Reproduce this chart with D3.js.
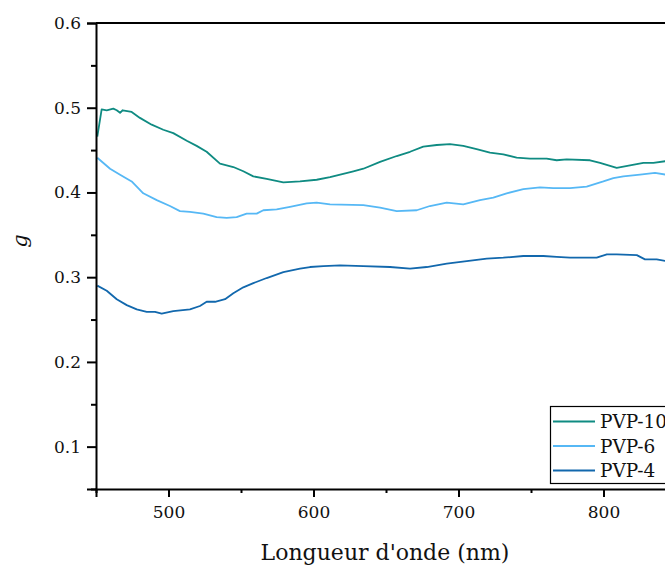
<!DOCTYPE html>
<html><head><meta charset="utf-8">
<script src="https://cdn.jsdelivr.net/npm/d3@7"></script>
<style>body{margin:0;background:#fff}svg{display:block}text{font-family:"DejaVu Serif",serif;fill:#111}</style>
</head><body>
<svg id="c" width="665" height="565"></svg>
<script>
const seriesNames = ["PVP-10", "PVP-6", "PVP-4"];
const seriesColors = ["#0f8b82", "#56b8f5", "#1268ad"];
const xTicks = [500, 600, 700, 800];
const yTicks = [0.1, 0.2, 0.3, 0.4, 0.5, 0.6];

const pvp10 = [[450.9,0.466],[453.9,0.498],[457.4,0.497],[461.9,0.499],[464.3,0.497],[466.6,0.494],[468.4,0.497],[474.6,0.495],[480.3,0.488],[488.4,0.480],[496.4,0.474],[503.3,0.470],[512.6,0.461],[519.4,0.455],[526.3,0.448],[535.5,0.434],[544.7,0.430],[551.6,0.425],[558.5,0.419],[567.7,0.416],[579.2,0.412],[590.7,0.413],[602.2,0.415],[611.4,0.418],[627.5,0.425],[634.4,0.428],[645.9,0.436],[657.4,0.443],[666.6,0.448],[675.7,0.454],[685,0.456],[694.1,0.457],[703.3,0.455],[712.5,0.451],[721.7,0.447],[730.9,0.445],[740.1,0.441],[749.3,0.440],[760.8,0.440],[767.7,0.438],[774.6,0.439],[790.7,0.438],[797.6,0.435],[809.1,0.429],[818.3,0.432],[827.5,0.435],[834.4,0.435],[843,0.437]];
const pvp6 = [[450.9,0.441],[459.7,0.428],[466.6,0.421],[474.6,0.413],[482.6,0.399],[491.9,0.391],[501,0.384],[507.9,0.378],[514.8,0.377],[524,0.375],[533.2,0.371],[540.1,0.370],[547,0.371],[553.9,0.375],[560.8,0.375],[565.4,0.379],[574.6,0.380],[583.8,0.383],[595.3,0.387],[602.2,0.388],[611.4,0.386],[634.4,0.385],[645.9,0.382],[657.4,0.378],[671.2,0.379],[680.3,0.384],[691.9,0.388],[703.3,0.386],[714.8,0.391],[724,0.394],[733.2,0.399],[744.7,0.404],[756.2,0.406],[765.4,0.405],[776.9,0.405],[788.4,0.407],[799.9,0.413],[806.8,0.417],[813.7,0.419],[825.2,0.421],[835.5,0.423],[843,0.421]];
const pvp4 = [[450.9,0.290],[457.4,0.284],[464.3,0.274],[471.2,0.267],[478.1,0.262],[485,0.259],[490.7,0.259],[495.3,0.257],[503.3,0.260],[514.8,0.262],[521.7,0.266],[526.3,0.271],[532.1,0.271],[539,0.274],[544.7,0.281],[551.6,0.288],[558.5,0.293],[567.7,0.299],[579.2,0.306],[590.7,0.310],[597.6,0.312],[606.8,0.313],[618.3,0.314],[634.4,0.313],[652.8,0.312],[666.6,0.310],[678.1,0.312],[691.9,0.316],[705.7,0.319],[719.5,0.322],[730.9,0.323],[744.7,0.325],[758.5,0.325],[767.7,0.324],[776.9,0.323],[795.3,0.323],[802.3,0.327],[809.1,0.327],[823,0.326],[828.6,0.321],[836.7,0.321],[843,0.319]];
const allSeries = [pvp10, pvp6, pvp4];

const svg = d3.select("#c");
const x = d3.scaleLinear().domain([450, 850]).range([96, 676]);
const y = d3.scaleLinear().domain([0.05, 0.6]).range([489, 23]);

// top frame line
svg.append("line").attr("x1",96).attr("x2",676).attr("y1",23).attr("y2",23).attr("stroke","#000").attr("stroke-width",2);

// lines
const line = d3.line().x(d=>x(d[0])).y(d=>y(d[1]));
allSeries.forEach((s,i)=>{
  svg.append("path").datum(s).attr("d",line).attr("fill","none")
    .attr("stroke",seriesColors[i]).attr("stroke-width",1.8).attr("stroke-linejoin","round");
});

// axes
const xAxis = svg.append("g").attr("transform","translate(0,489)")
  .call(d3.axisBottom(x).tickValues(xTicks).tickFormat(d3.format("d")).tickSize(8).tickPadding(9));
const xMinor = svg.append("g").attr("transform","translate(0,489)")
  .call(d3.axisBottom(x).tickValues([450,550,650,750,850]).tickFormat("").tickSize(4));
const yAxis = svg.append("g").attr("transform","translate(96,0)")
  .call(d3.axisLeft(y).tickValues(yTicks).tickFormat(d3.format(".1f")).tickSize(9).tickPadding(6));
const yMinor = svg.append("g").attr("transform","translate(96,0)")
  .call(d3.axisLeft(y).tickValues([0.05,0.15,0.25,0.35,0.45,0.55]).tickFormat("").tickSize(5));
[xAxis,xMinor,yAxis,yMinor].forEach(g=>{
  g.select(".domain").attr("stroke","#000").attr("stroke-width",2);
  g.selectAll(".tick line").attr("stroke","#000").attr("stroke-width",2);
  g.selectAll(".tick text").style("font-family","'DejaVu Serif',serif").style("font-size","17px").attr("fill","#111");
});
xMinor.select(".domain").remove(); yMinor.select(".domain").remove();

// axis titles
svg.append("text").attr("x",385).attr("y",560).attr("text-anchor","middle").style("font-size","22px").text("Longueur d'onde (nm)");
svg.append("text").attr("transform","translate(27,241) rotate(-90)").attr("text-anchor","middle")
  .style("font-size","21px").style("font-style","italic").text("g");

// legend
const lg = svg.append("g");
lg.append("rect").attr("x",550.5).attr("y",406.5).attr("width",130).attr("height",77).attr("fill","#fff").attr("stroke","#000").attr("stroke-width",1.2);
seriesNames.forEach((n,i)=>{
  const yy = 421.5 + i*24.5;
  lg.append("line").attr("x1",553).attr("x2",595).attr("y1",yy).attr("y2",yy).attr("stroke",seriesColors[i]).attr("stroke-width",2);
  lg.append("text").attr("x",600).attr("y",yy+6.5).style("font-size","18.5px").text(n);
});
</script>
</body></html>
